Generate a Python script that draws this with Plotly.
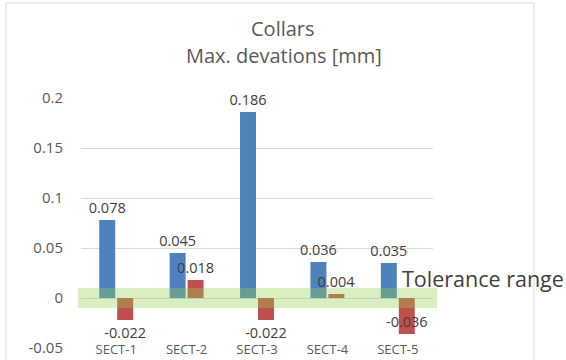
import plotly.graph_objects as go

categories = ["SECT-1", "SECT-2", "SECT-3", "SECT-4", "SECT-5"]
max_dev = [0.078, 0.045, 0.186, 0.036, 0.035]
min_dev = [-0.022, 0.018, -0.022, 0.004, -0.036]
y_ticks = [-0.05, 0, 0.05, 0.1, 0.15, 0.2]
y_tick_labels = ["-0.05", "0", "0.05", "0.1", "0.15", "0.2"]
tol_low, tol_high = -0.01, 0.01
title_lines = ["Collars", "Max. devations [mm]"]
tol_label = "Tolerance range"

FONT = "Open Sans"
BLUE = "#4F81BD"
RED = "#C0504D"
LABEL = "#404040"
AXIS = "#595959"
GRID = "#D9D9D9"

fig = go.Figure()
fig.add_trace(go.Bar(
    x=categories, y=max_dev, marker=dict(color=BLUE, line=dict(width=0)),
    text=[f"{v:g}" for v in max_dev], textposition="outside",
    textfont=dict(family=FONT, size=14.5, color=LABEL),
    cliponaxis=False, textangle=0, constraintext="none", showlegend=False,
    hoverinfo="skip",
))
red_pos = ["inside" if v < -0.03 else "outside" for v in min_dev]
fig.add_trace(go.Bar(
    x=categories, y=min_dev, marker=dict(color=RED, line=dict(width=0)),
    text=[f"{v:g}" for v in min_dev], textposition=red_pos,
    textfont=dict(family=FONT, size=14.5, color=LABEL),
    insidetextfont=dict(family=FONT, size=14.5, color=LABEL),
    outsidetextfont=dict(family=FONT, size=14.5, color=LABEL),
    insidetextanchor="end",
    cliponaxis=False, textangle=0, constraintext="none", showlegend=False,
    hoverinfo="skip",
))

L, R, T, B = 81, 133, 98, 12
W, H = 566, 360
pw, ph = W - L - R, H - T - B

def px_x(p):
    return (p - L) / pw

def px_y(p):
    return (H - B - p) / ph

fig.update_layout(
    width=W, height=H,
    margin=dict(l=L, r=R, t=T, b=B, autoexpand=False),
    paper_bgcolor="white", plot_bgcolor="white",
    barmode="group", bargap=0.49, bargroupgap=0.11,
    font=dict(family=FONT, color=AXIS),
    shapes=[
        dict(type="rect", xref="paper", yref="y", x0=px_x(78), x1=px_x(437),
             y0=tol_low, y1=tol_high, fillcolor="rgba(146,208,80,0.35)",
             line=dict(width=0), layer="above"),
        dict(type="rect", xref="paper", yref="paper", x0=px_x(6), x1=px_x(534),
             y0=px_y(400), y1=px_y(3), fillcolor="rgba(0,0,0,0)",
             line=dict(color=GRID, width=1), layer="below"),
    ],
    annotations=[
        dict(text=title_lines[0], xref="paper", yref="paper", x=px_x(283), y=px_y(28),
             xanchor="center", yanchor="middle",
             showarrow=False, font=dict(family=FONT, size=20, color=AXIS)),
        dict(text=title_lines[1], xref="paper", yref="paper", x=px_x(284), y=px_y(55),
             xanchor="center", yanchor="middle",
             showarrow=False, font=dict(family=FONT, size=20, color=AXIS)),
        dict(text=tol_label, xref="paper", yref="paper", x=px_x(400), y=px_y(278),
             xanchor="left", yanchor="middle",
             showarrow=False, font=dict(family=FONT, size=21.5, color=LABEL)),
    ],
)
fig.update_yaxes(range=[-0.05, 0.2], tickvals=y_ticks, ticktext=y_tick_labels,
                 showgrid=True, gridcolor=GRID, gridwidth=1, zeroline=False,
                 showline=False, ticks="", ticklabelstandoff=17, automargin=False,
                 tickfont=dict(family=FONT, size=15, color=AXIS))
fig.update_xaxes(showgrid=False, zeroline=False, showline=False, ticks="",
                 ticklabelstandoff=-8, automargin=False,
                 tickfont=dict(family=FONT, size=13, color=AXIS))

fig.write_html("out.html", post_script="document.body.style.margin='0';",
               config={"displayModeBar": False})
